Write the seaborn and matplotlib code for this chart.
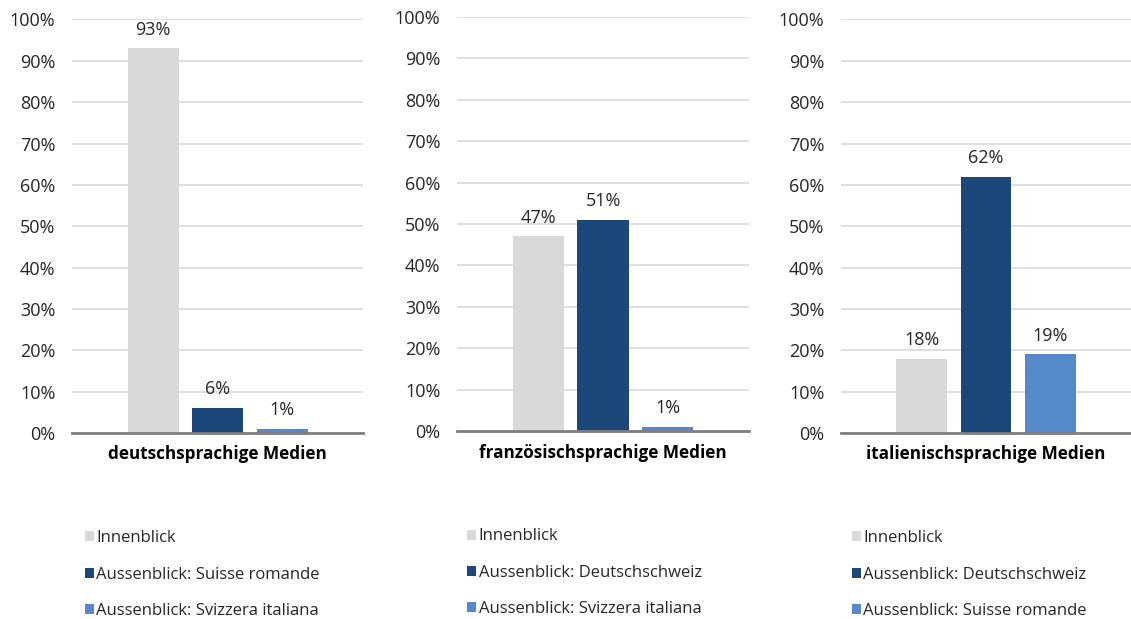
import numpy as np
import pandas as pd
import matplotlib.pyplot as plt
from matplotlib.patches import Patch
from matplotlib.ticker import PercentFormatter, MultipleLocator
import seaborn as sns

# Daten aus der Vorlage
panels = ["deutschsprachige Medien", "französischsprachige Medien", "italienischsprachige Medien"]
series_labels = [
    ["Innenblick", "Aussenblick: Suisse romande", "Aussenblick: Svizzera italiana"],
    ["Innenblick", "Aussenblick: Deutschschweiz", "Aussenblick: Svizzera italiana"],
    ["Innenblick", "Aussenblick: Deutschschweiz", "Aussenblick: Suisse romande"],
]
deutsch_values = [0.93, 0.06, 0.01]
franz_values = [0.47, 0.51, 0.01]
ital_values = [0.18, 0.62, 0.19]
all_values = [deutsch_values, franz_values, ital_values]

colors = ["#D9D9D9", "#1B477B", "#5689C9"]

sns.set_theme(style="white")
plt.rcParams["font.family"] = ["Open Sans", "DejaVu Sans"]
text_color = "#262626"

fig = plt.figure(figsize=(11.31, 6.19), dpi=100)

# Achsenpositionen (Bruchteile der Abbildung)
axes_pos = [
    [0.0637, 0.3005, 0.2573, 0.668],
    [0.4041, 0.3037, 0.2582, 0.669],
    [0.7436, 0.3005, 0.2564, 0.668],
]
legend_pos = [(0.069, 0.154), (0.407, 0.157), (0.747, 0.154)]

for i, name in enumerate(panels):
    ax = fig.add_axes(axes_pos[i])
    df = pd.DataFrame({"Serie": series_labels[i], "Anteil": all_values[i]})
    sns.barplot(data=df, x="Serie", y="Anteil", hue="Serie", palette=colors,
                width=0.79, legend=False, ax=ax, saturation=1, linewidth=0)
    for cont in ax.containers:
        ax.bar_label(cont, labels=[f"{v*100:.0f}%" for v in cont.datavalues],
                     padding=7, fontsize=13, color=text_color)
    ax.set_ylim(0, 1.0)
    ax.set_xlim(-1.255, 3.255)
    ax.yaxis.set_major_locator(MultipleLocator(0.1))
    ax.yaxis.set_major_formatter(PercentFormatter(1.0, decimals=0))
    ax.grid(axis="y", color="#D9D9D9", linewidth=1.2)
    ax.set_axisbelow(True)
    for s in ["left", "right", "top"]:
        ax.spines[s].set_visible(False)
    ax.spines["bottom"].set_color("#7F7F7F")
    ax.spines["bottom"].set_linewidth(2)
    ax.tick_params(axis="y", length=0, labelsize=13, labelcolor=text_color, pad=12)
    ax.set_xticks([])
    ax.set_xlabel(name, fontsize=12.3, fontweight="bold", color="black", labelpad=9)
    ax.set_ylabel("")

    handles = [Patch(facecolor=c, edgecolor="none") for c in colors]
    fig.legend(handles, series_labels[i], loc="upper left",
               bbox_to_anchor=legend_pos[i], frameon=False,
               fontsize=12, handlelength=0.55, handleheight=0.55,
               handletextpad=0.15, labelspacing=1.22, borderaxespad=0,
               labelcolor=text_color)

fig.savefig("out.png", dpi=100)
